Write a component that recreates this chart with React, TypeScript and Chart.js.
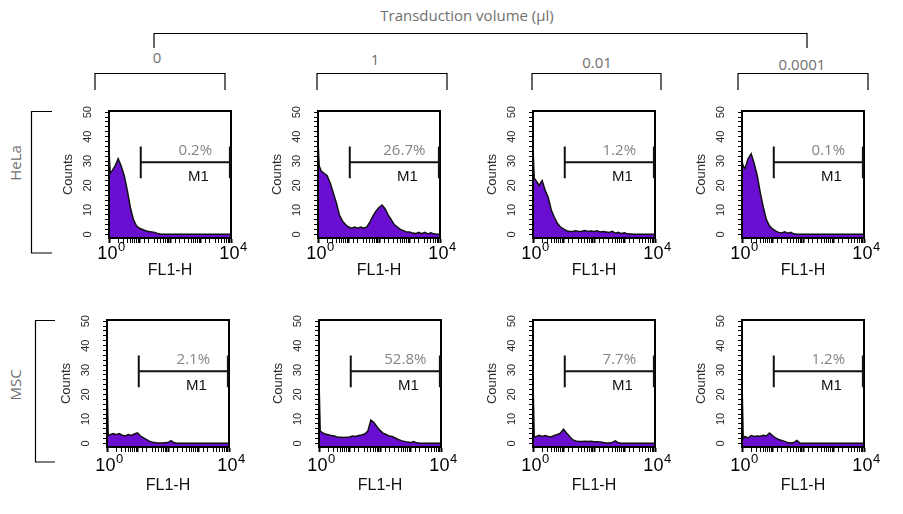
import React, { useEffect, useRef } from 'react';
import { Chart, registerables } from 'chart.js';

Chart.register(...registerables);

// ---- data ----
// histogram bin positions in decades (log10 of FL1-H)
const BIN_LOG10 = [
  0, 0.04, 0.1, 0.2, 0.3, 0.4, 0.5, 0.6, 0.7, 0.8, 0.9, 1.0, 1.1, 1.2, 1.3, 1.4, 1.5, 1.6, 1.7, 1.8, 1.9, 2.0,
  2.1, 2.2, 2.3, 2.4, 2.5, 2.6, 2.7, 2.8, 2.9, 3.0, 3.1, 3.2, 3.3, 3.4, 3.5, 3.6, 3.7, 3.8, 3.9, 4.0,
];

const VOLUMES = ['0', '1', '0.01', '0.0001'];
const CELL_LINES = ['HeLa', 'MSC'];

const HELA_0 = [34, 25, 26, 28, 31, 28, 24, 18, 11, 6, 3.5, 2.5, 2, 1.5, 1.2, 1, 0.8, 0.3, 0, 0, 0, 0, 0, 0, 0, 0, 0, 0, 0, 0, 0, 0, 0, 0, 0, 0, 0, 0, 0, 0, 0, 0];
const HELA_1 = [38, 28, 26, 25, 24, 21, 17, 13, 8, 5.5, 4, 3, 2.5, 3, 2.5, 3, 2.5, 3, 5, 7.5, 9.5, 11, 12, 10.5, 8, 6, 4, 3, 2, 1.5, 1, 1, 0.5, 0.3, 0.8, 0.3, 0.8, 0.2, 0.6, 0.2, 0, 0];
const HELA_001 = [36, 23, 22, 20, 22, 18, 15, 10, 7, 4.5, 3, 2.2, 1.5, 1.2, 1.2, 1.5, 1.2, 1.3, 1.6, 1.2, 1.4, 1.2, 1.5, 1.0, 1.2, 1.0, 0.8, 1.2, 0.5, 0.8, 0.3, 0.6, 0.2, 0.1, 0, 0, 0, 0, 0, 0, 0, 0];
const HELA_00001 = [30, 28, 27, 31, 33, 29, 24, 17, 11, 6, 3.5, 2.2, 1.4, 0.8, 0.6, 1.0, 0.5, 0.8, 0.2, 0, 0, 0, 0, 0, 0, 0, 0, 0, 0, 0, 0, 0, 0, 0, 0, 0, 0, 0, 0, 0, 0, 0];
const MSC_0 = [26, 3.2, 3.5, 4, 3.5, 4, 3.3, 3, 3.6, 3.2, 3.8, 4.3, 3, 2.2, 1.5, 0.8, 0.4, 0.2, 0.1, 0.1, 0.2, 0.3, 1.1, 0.2, 0, 0, 0, 0, 0, 0, 0, 0, 0, 0, 0, 0, 0, 0, 0, 0, 0, 0];
const MSC_1 = [26, 5, 4.5, 3.8, 3.5, 3.2, 3.0, 2.6, 2.5, 2.4, 2.5, 2.6, 3, 2.8, 3.2, 3.4, 3.8, 5, 9.5, 8.5, 6.8, 5.3, 4.2, 3.6, 3.0, 2.8, 2.2, 1.6, 1.1, 0.8, 0.5, 0.3, 0.7, 0.2, 0, 0, 0, 0, 0, 0, 0, 0];
const MSC_001 = [26, 2.7, 2.7, 3.3, 2.8, 3.2, 2.8, 2.7, 3.2, 3.6, 4.2, 5.8, 4.2, 2.8, 1.5, 1.0, 0.8, 0.8, 0.9, 0.8, 0.9, 0.7, 0.7, 0.6, 0.3, 0.1, 0.1, 0.4, 1.0, 0.2, 0, 0, 0, 0, 0, 0, 0, 0, 0, 0, 0, 0];
const MSC_00001 = [26, 2, 2.8, 2.2, 3.2, 2.8, 3.0, 2.9, 3.3, 3.0, 4.2, 3.2, 2.2, 1.6, 1.2, 0.8, 0.3, 0.1, 0.3, 1.2, 0.1, 0, 0, 0, 0, 0, 0, 0, 0, 0, 0, 0, 0, 0, 0, 0, 0, 0, 0, 0, 0, 0];

const HELA_PCT = ['0.2%', '26.7%', '1.2%', '0.1%'];
const MSC_PCT = ['2.1%', '52.8%', '7.7%', '1.2%'];

// x tick labels: value -> base / exponent
const X_TICK_VALUES = [1, 10000];
const X_TICK_BASES = ['10', '10'];
const X_TICK_EXPS = ['0', '4'];
const Y_TICK_LABELS = [0, 10, 20, 30, 40, 50];
const Y_MINOR_TICKS = [0, 2, 4, 6, 8, 10, 12, 14, 16, 18, 20, 22, 24, 26, 28, 30, 32, 34, 36, 38, 40, 42, 44, 46, 48, 50];

const GATE_NAME = 'M1';
const GATE_RANGE = [11, 9200];
const GATE_LEVEL = 29.5;
const GATE_HALF = 6.5;

const X_TITLE = 'FL1-H';
const Y_TITLE = 'Counts';
const MAIN_TITLE = 'Transduction volume (\u03bcl)';

// ---- layout ----
const COL_LEFT = [
  [109, 318, 533, 742],
  [107, 319, 533, 742],
];
const ROW_TOP = [111, 320];
const ROW_XH = [42, 48];
const ROW_LABEL_BASE = [21, 24];
const PLOT_W = 122;
const PLOT_H = 127;
const YW = 48;
const PAD_TOP = 14;
const PAD_RIGHT = 20;
const PAD_BOTTOM = 2;

const PURPLE = '#6a0fd2';
const SANS = '"Liberation Sans", Arial, sans-serif';
const GRAY_FONT = '"Open Sans", "Noto Sans", sans-serif';

Chart.defaults.font.family = SANS;

const decorPlugin = {
  id: 'flowDecor',
  afterDraw(chart: any, _args: any, opts: any) {
    const { ctx, chartArea: a } = chart;
    const x = chart.scales.x;
    const y = chart.scales.y;
    ctx.save();
    ctx.strokeStyle = '#000';
    ctx.lineWidth = 2;
    ctx.strokeRect(a.left, a.top, a.right - a.left, a.bottom - a.top);

    // rotated y tick labels
    ctx.fillStyle = '#2a2a2a';
    ctx.font = `11px ${SANS}`;
    ctx.textAlign = 'center';
    ctx.textBaseline = 'middle';
    for (const v of Y_TICK_LABELS) {
      ctx.save();
      ctx.translate(a.left - 21, y.getPixelForValue(v));
      ctx.rotate(-Math.PI / 2);
      ctx.fillText(String(v), 0, 0);
      ctx.restore();
    }

    // x tick labels with superscript exponents
    ctx.fillStyle = '#000';
    ctx.textBaseline = 'alphabetic';
    ctx.textAlign = 'left';
    X_TICK_VALUES.forEach((v, i) => {
      const px = x.getPixelForValue(v);
      ctx.font = `18px ${SANS}`;
      const bw = ctx.measureText(X_TICK_BASES[i]).width;
      ctx.font = `13px ${SANS}`;
      const ew = ctx.measureText(X_TICK_EXPS[i]).width;
      const start = px + 2 - (bw + ew) / 2;
      ctx.font = `18px ${SANS}`;
      ctx.fillText(X_TICK_BASES[i], start, a.bottom + opts.labelBase);
      ctx.font = `13px ${SANS}`;
      ctx.fillText(X_TICK_EXPS[i], start + bw + 0.5, a.bottom + opts.labelBase - 8);
    });

    // gate marker
    const gx1 = x.getPixelForValue(GATE_RANGE[0]);
    const gx2 = x.getPixelForValue(GATE_RANGE[1]);
    const gy = y.getPixelForValue(GATE_LEVEL);
    const gyT = y.getPixelForValue(GATE_LEVEL + GATE_HALF);
    const gyB = y.getPixelForValue(GATE_LEVEL - GATE_HALF);
    ctx.strokeStyle = '#111';
    ctx.lineWidth = 2;
    ctx.beginPath();
    ctx.moveTo(gx1, gy);
    ctx.lineTo(gx2, gy);
    ctx.moveTo(gx1, gyT);
    ctx.lineTo(gx1, gyB);
    ctx.moveTo(gx2, gyT);
    ctx.lineTo(gx2, gyB);
    ctx.stroke();

    const mid = (gx1 + gx2) / 2;
    ctx.textAlign = 'center';
    ctx.textBaseline = 'middle';
    ctx.fillStyle = '#858585';
    ctx.font = `15px ${GRAY_FONT}`;
    ctx.fillText(opts.pct, mid + 10, gy - 12);
    ctx.fillStyle = '#111';
    ctx.font = `15px ${SANS}`;
    ctx.fillText(GATE_NAME, mid + 13, gy + 15);
    ctx.restore();
  },
};

function Histogram({ counts, pct, left, top, xh, labelBase }: { counts: number[]; pct: string; left: number; top: number; xh: number; labelBase: number }) {
  const ref = useRef<HTMLCanvasElement>(null);
  const cw = YW + PLOT_W + PAD_RIGHT;
  const ch = PAD_TOP + PLOT_H + xh + PAD_BOTTOM;
  useEffect(() => {
    const chart = new Chart(ref.current as HTMLCanvasElement, {
      type: 'line',
      data: {
        datasets: [
          {
            data: BIN_LOG10.map((d, i) => ({ x: Math.pow(10, d), y: counts[i] })),
            borderColor: '#111',
            borderWidth: 1.5,
            backgroundColor: PURPLE,
            fill: 'start',
            pointRadius: 0,
            tension: 0,
          },
        ],
      },
      options: {
        responsive: false,
        animation: false,
        events: [],
        layout: { padding: { left: 0, top: PAD_TOP, right: PAD_RIGHT, bottom: PAD_BOTTOM } },
        plugins: {
          legend: { display: false },
          tooltip: { enabled: false },
          flowDecor: { pct, labelBase },
        } as any,
        scales: {
          x: {
            type: 'logarithmic',
            min: 1,
            max: 10000,
            afterFit: (s: any) => {
              s.height = xh;
            },
            border: { display: true, color: '#000', width: 2 },
            grid: {
              drawOnChartArea: false,
              drawTicks: true,
              tickLength: 5,
              color: '#000',
              tickWidth: (c: any) => {
                const v = c.tick ? c.tick.value : 0;
                return Math.abs(Math.log10(v) - Math.round(Math.log10(v))) < 1e-6 ? 2 : 1;
              },
            },
            ticks: {
              autoSkip: false,
              maxRotation: 0,
              minRotation: 0,
              padding: 1,
              callback: () => '',
            },
            title: {
              display: true,
              text: X_TITLE,
              color: '#111',
              font: { size: 16, family: SANS },
              padding: { top: 0, bottom: 0 },
            },
          },
          y: {
            type: 'linear',
            min: -1.5,
            max: 50.5,
            afterFit: (s: any) => {
              s.width = YW;
            },
            afterBuildTicks: (s: any) => {
              s.ticks = Y_MINOR_TICKS.map((v) => ({ value: v }));
            },
            border: { display: true, color: '#000', width: 2 },
            grid: { drawOnChartArea: false, drawTicks: true, tickLength: 4, color: '#000' },
            ticks: { display: false },
            title: {
              display: true,
              text: Y_TITLE,
              color: '#2a2a2a',
              font: { size: 13, family: SANS },
              padding: { top: 0, bottom: 0 },
            },
          },
        },
      } as any,
      plugins: [decorPlugin as any],
    });
    return () => chart.destroy();
  }, []);
  return (
    <canvas
      ref={ref}
      width={cw}
      height={ch}
      style={{ position: 'absolute', left: left - YW, top: top - PAD_TOP, width: cw, height: ch }}
    />
  );
}

const ROWS = [
  { name: CELL_LINES[0], series: [HELA_0, HELA_1, HELA_001, HELA_00001], pct: HELA_PCT },
  { name: CELL_LINES[1], series: [MSC_0, MSC_1, MSC_001, MSC_00001], pct: MSC_PCT },
];

const COL_BRACKETS = [
  [95, 225],
  [317, 447],
  [532, 661],
  [738, 868],
];
const COL_LABEL_POS = [
  [157, 57],
  [375, 59],
  [597, 62],
  [802, 64],
];

export default function App() {
  const gray = '#707070';
  return (
    <div style={{ position: 'absolute', left: 0, top: 0, width: 903, height: 514, background: '#fff', overflow: 'hidden' }}>
      <svg width={903} height={514} style={{ position: 'absolute', left: 0, top: 0 }}>
        <g fill="none" stroke="#000" strokeWidth={1.2}>
          <path d="M154,48 V33.5 H807 V48" />
          {COL_BRACKETS.map(([a, b], i) => (
            <path key={i} d={`M${a},90 V73.5 H${b} V90`} />
          ))}
          <path d="M52,111.5 H31.5 V253 H52" />
          <path d="M55,320.5 H35.5 V462 H55" />
        </g>
        <g fill={gray} fontFamily={GRAY_FONT} fontSize={15} textAnchor="middle" dominantBaseline="central">
          <text x={467} y={15}>{MAIN_TITLE}</text>
          {VOLUMES.map((v, i) => (
            <text key={v} x={COL_LABEL_POS[i][0]} y={COL_LABEL_POS[i][1]}>
              {v}
            </text>
          ))}
          <text x={15} y={163} transform="rotate(-90 15 163)">
            {ROWS[0].name}
          </text>
          <text x={15} y={385} transform="rotate(-90 15 385)">
            {ROWS[1].name}
          </text>
        </g>
      </svg>
      {ROWS.map((row, r) =>
        row.series.map((s, c) => (
          <Histogram
            key={`${r}-${c}`}
            counts={s}
            pct={row.pct[c]}
            left={COL_LEFT[r][c]}
            top={ROW_TOP[r]}
            xh={ROW_XH[r]}
            labelBase={ROW_LABEL_BASE[r]}
          />
        ))
      )}
    </div>
  );
}
